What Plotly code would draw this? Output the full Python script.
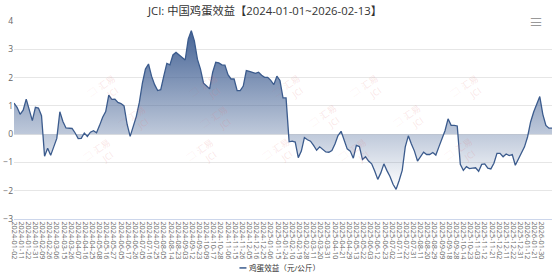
import plotly.graph_objects as go

# ---------------- data ----------------
title_text = "JCI: 中国鸡蛋效益【2024-01-01~2026-02-13】"
series_name = "鸡蛋效益（元/公斤）"

# value sampled every 3rd trading day, starting 2024-01-02, ending 2026-02-13
sample_step = 3
egg_profit = [
    1.10, 0.95, 0.70, 0.85, 1.24, 0.90, 0.48, 0.95, 0.92, 0.65,
    -0.78, -0.50, -0.75, -0.45, -0.15, 0.79, 0.45, 0.22, 0.22, 0.20,
    0.04, -0.16, -0.15, 0.04, -0.08, 0.07, 0.12, 0.05, 0.31, 0.60,
    0.80, 1.38, 1.23, 1.24, 1.12, 1.08, 1.00, 0.35, -0.08, 0.30,
    0.62, 1.12, 1.80, 2.30, 2.48, 2.05, 1.75, 1.54, 1.57, 2.05,
    2.50, 2.45, 2.80, 2.89, 2.80, 2.72, 2.62, 3.36, 3.66, 3.30,
    2.65, 2.30, 1.80, 1.70, 1.60, 2.19, 2.54, 2.52, 2.45, 2.44,
    2.10, 1.95, 1.95, 1.54, 1.54, 1.70, 2.25, 2.22, 2.19, 2.15,
    2.19, 2.08, 2.01, 2.01, 1.90, 1.75, 2.05, 1.90, 1.28, 1.28,
    -0.27, -0.25, -0.28, -0.83, -0.60, -0.12, -0.20, -0.25, -0.40, -0.57,
    -0.45, -0.55, -0.63, -0.64, -0.58, -0.35, -0.05, 0.10, -0.18, -0.52,
    -0.60, -0.85, -0.40, -0.44, -0.90, -0.80, -0.95, -1.05, -1.30, -1.60,
    -1.37, -1.05, -1.29, -1.50, -1.77, -1.95, -1.64, -1.28, -0.45, -0.06,
    -0.35, -0.60, -0.95, -0.80, -0.64, -0.72, -0.72, -0.65, -0.74, -0.45,
    -0.16, 0.12, 0.54, 0.31, 0.31, 0.29, -1.07, -1.28, -1.15, -1.22,
    -1.20, -1.19, -1.31, -1.07, -1.05, -1.20, -1.23, -1.03, -0.68, -0.68,
    -0.80, -0.70, -0.76, -0.72, -1.10, -0.88, -0.70, -0.45, -0.10, 0.43,
    0.78, 1.07, 1.33, 0.70, 0.31, 0.21, 0.21,
]

# x-axis category labels (every 7th trading day)
label_step = 7
tick_labels = [
    "2024-01-02", "2024-01-11", "2024-01-22", "2024-01-31", "2024-02-09", "2024-02-26",
    "2024-03-06", "2024-03-15", "2024-03-26", "2024-04-07", "2024-04-16", "2024-04-25",
    "2024-05-08", "2024-05-16", "2024-05-27", "2024-06-05", "2024-06-17", "2024-06-26",
    "2024-07-05", "2024-07-16", "2024-07-25", "2024-08-05", "2024-08-14", "2024-08-23",
    "2024-09-03", "2024-09-12", "2024-09-23", "2024-10-09", "2024-10-17", "2024-10-28",
    "2024-11-06", "2024-11-15", "2024-11-26", "2024-12-05", "2024-12-16", "2024-12-25",
    "2025-01-06", "2025-01-15", "2025-01-24", "2025-02-10", "2025-02-19", "2025-02-28",
    "2025-03-11", "2025-03-20", "2025-03-31", "2025-04-10", "2025-04-21", "2025-04-29",
    "2025-05-13", "2025-05-22", "2025-06-03", "2025-06-12", "2025-06-23", "2025-07-02",
    "2025-07-11", "2025-07-22", "2025-07-31", "2025-08-11", "2025-08-20", "2025-08-29",
    "2025-09-09", "2025-09-18", "2025-09-28", "2025-10-14", "2025-10-23", "2025-11-03",
    "2025-11-12", "2025-11-21", "2025-12-02", "2025-12-11", "2025-12-22", "2025-12-31",
    "2026-01-12", "2026-01-21", "2026-01-30", "2026-02-10",
]
y_ticks = [-3, -2, -1, 0, 1, 2, 3, 4]

# ---------------- styling ----------------
W, H = 554, 278
ML, MR, MT, MB = 14.3, 2.3, 20.7, 59
PW, PH = W - ML - MR, H - MT - MB
LINE = "#3b5b8d"
FONT = "Open Sans, Noto Sans CJK SC, sans-serif"


def px_x(px):
    return (px - ML) / PW


def px_y(py):
    return (H - MB - py) / PH


x_idx = [i * sample_step for i in range(len(egg_profit))]
tick_vals = [i * label_step for i in range(len(tick_labels))]

fig = go.Figure()
fig.add_trace(go.Scatter(
    x=x_idx, y=egg_profit, mode="lines",
    line=dict(color=LINE, width=1.3),
    fill="tozeroy",
    fillgradient=dict(type="vertical",
                      colorscale=[[0, "rgba(70,100,150,0.0)"],
                                  [1, "rgba(70,100,150,1.0)"]]),
    showlegend=False, hoverinfo="skip", name=series_name,
))

annotations = []
# watermarks
wm_pos = [(80, 66), (182, 66), (288, 66), (390, 66), (490, 66),
          (110, 120), (216, 120), (324, 119), (432, 119),
          (75, 177), (178, 177), (278, 176), (378, 177), (484, 176)]
for (wx, wy) in wm_pos:
    annotations.append(dict(
        x=px_x(wx), y=px_y(wy), xref="paper", yref="paper",
        text="<span style='color:rgba(240,90,90,0.25);font-size:13px'>⊐</span> 汇易<br>     JCI",
        showarrow=False, textangle=-35,
        font=dict(family=FONT, size=9, color="rgba(225,120,120,0.2)"),
    ))

# legend (text part)
annotations.append(dict(
    x=px_x(247.5), y=px_y(268), xref="paper", yref="paper",
    xanchor="left", yanchor="middle", text=series_name, showarrow=False,
    font=dict(family=FONT, size=7.6, color="#333333"),
))
# export menu icon
annotations.append(dict(
    x=px_x(545), y=px_y(10), xref="paper", yref="paper",
    text="≡", showarrow=False, font=dict(family=FONT, size=14, color="#999999"),
))

shapes = [dict(type="line", xref="paper", yref="paper",
               x0=px_x(239.5), x1=px_x(246.5), y0=px_y(268), y1=px_y(268),
               line=dict(color=LINE, width=1.5))]

fig.update_layout(
    width=W, height=H,
    margin=dict(l=ML, r=MR, t=MT, b=MB, pad=0),
    paper_bgcolor="white", plot_bgcolor="white",
    font=dict(family=FONT, color="#666666"),
    title=dict(text=title_text, x=265 / W, xref="container", xanchor="center",
               y=1 - 11 / H, yanchor="middle",
               font=dict(family=FONT, size=11.3, color="#333333")),
    xaxis=dict(range=[0, x_idx[-1]], tickmode="array", tickvals=tick_vals,
               ticktext=tick_labels, tickangle=90, showgrid=False,
               showline=True, linecolor="#ccd6eb", linewidth=1, ticks="",
               tickfont=dict(family=FONT, size=7.3, color="#666666"),
               zeroline=False, automargin=False, fixedrange=True),
    yaxis=dict(range=[-3, 4], tickmode="array", tickvals=y_ticks,
               showgrid=True, gridcolor="#e6e6e6", gridwidth=1,
               zeroline=False, showline=False, ticks="",
               tickfont=dict(family=FONT, size=8.5, color="#666666"),
               automargin=False, fixedrange=True),
    annotations=annotations, shapes=shapes, showlegend=False,
)

fig.write_html("out.html")
